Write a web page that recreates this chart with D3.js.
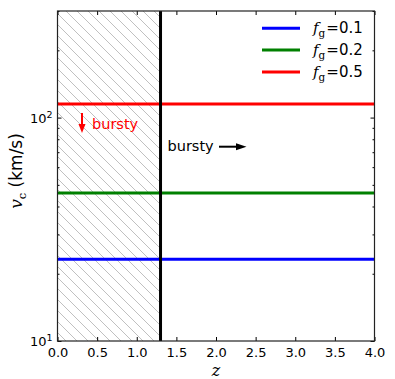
<!DOCTYPE html>
<html>
<head>
<script src="https://d3js.org/d3.v7.min.js"></script>
<style>
  body { margin: 0; background: #fff; }
  text { font-family: "DejaVu Sans", sans-serif; }
  .math { font-family: "DejaVu Serif", serif; }
</style>
</head>
<body>
<script>
// data
var fgLabels = ["0.1", "0.2", "0.5"];
var vcValues = [23.2, 46, 115];
var lineColors = ["#0000ff", "#008000", "#ff0000"];
var zCrit = 1.3;
var xTicks = [0, 0.5, 1, 1.5, 2, 2.5, 3, 3.5, 4];
var yMajor = [10, 100];

var width = 395, height = 379;
var margin = {top: 11, right: 20.5, bottom: 38, left: 57.5};

var svg = d3.select("body").append("svg")
    .attr("width", width)
    .attr("height", height);

var x = d3.scaleLinear().domain([0, 4]).range([margin.left, width - margin.right]);
var y = d3.scaleLog().domain([10, 300]).range([height - margin.bottom, margin.top]);

// hatch pattern
var defs = svg.append("defs");
var pat = defs.append("pattern")
    .attr("id", "hatch")
    .attr("patternUnits", "userSpaceOnUse")
    .attr("width", 11).attr("height", 11);
pat.append("path")
    .attr("d", "M-1,-1 L12,12 M-1,10 L1,12 M10,-1 L12,1")
    .attr("stroke", "#b0b0b0")
    .attr("stroke-width", 0.8)
    .attr("fill", "none");

svg.append("rect")
    .attr("x", x(0)).attr("y", y(300))
    .attr("width", x(zCrit) - x(0))
    .attr("height", y(10) - y(300))
    .attr("fill", "url(#hatch)");

// horizontal lines
vcValues.forEach(function(v, i) {
  svg.append("line")
    .attr("x1", x(0)).attr("x2", x(4))
    .attr("y1", y(v)).attr("y2", y(v))
    .attr("stroke", lineColors[i])
    .attr("stroke-width", 3);
});

// vertical line
svg.append("line")
  .attr("x1", x(zCrit)).attr("x2", x(zCrit))
  .attr("y1", y(10)).attr("y2", y(300))
  .attr("stroke", "black")
  .attr("stroke-width", 3);

// ticks (inside)
var xAxisB = d3.axisBottom(x).tickValues(xTicks).tickSizeInner(-4).tickSizeOuter(0)
    .tickPadding(7).tickFormat(d3.format(".1f"));
var gx = svg.append("g").attr("transform", "translate(0," + y(10) + ")").call(xAxisB);
gx.select(".domain").remove();
gx.selectAll("text").attr("font-size", 13).attr("font-family", "DejaVu Sans").attr("fill", "black");

var xAxisT = d3.axisTop(x).tickValues(xTicks).tickSizeInner(-4).tickSizeOuter(0).tickFormat("");
var gxt = svg.append("g").attr("transform", "translate(0," + y(300) + ")").call(xAxisT);
gxt.select(".domain").remove();

var minor = [];
[10, 100].forEach(function(d) {
  for (var k = 2; k <= 9; k++) { if (k * d <= 300) minor.push(k * d); }
});

function yTicks(side) {
  var xp = side === "left" ? x(0) : x(4);
  var ax = side === "left" ? d3.axisLeft(y) : d3.axisRight(y);
  var g1 = svg.append("g").attr("transform", "translate(" + xp + ",0)")
    .call(ax.tickValues(yMajor).tickSizeInner(-4).tickSizeOuter(0).tickFormat(""));
  g1.select(".domain").remove();
  var g2 = svg.append("g").attr("transform", "translate(" + xp + ",0)")
    .call((side === "left" ? d3.axisLeft(y) : d3.axisRight(y)).tickValues(minor).tickSizeInner(-2).tickSizeOuter(0).tickFormat(""));
  g2.select(".domain").remove();
}
yTicks("left");
yTicks("right");

// y tick labels 10^1, 10^2
yMajor.forEach(function(v) {
  var t = svg.append("text")
    .attr("x", x(0) - 5).attr("y", y(v) + 5)
    .attr("text-anchor", "end")
    .attr("font-size", 13);
  t.append("tspan").text("10");
  t.append("tspan").attr("dy", -5).attr("font-size", 9.5).text(Math.round(Math.log10(v)));
});

// frame
svg.append("rect")
  .attr("x", x(0)).attr("y", y(300))
  .attr("width", x(4) - x(0)).attr("height", y(10) - y(300))
  .attr("fill", "none").attr("stroke", "#222").attr("stroke-width", 1.2);

// legend
fgLabels.forEach(function(lab, i) {
  var ly = 28.3 + i * 21.8;
  svg.append("line")
    .attr("x1", 262).attr("x2", 300)
    .attr("y1", ly).attr("y2", ly)
    .attr("stroke", lineColors[i]).attr("stroke-width", 3);
  var t = svg.append("text").attr("x", 313).attr("y", ly + 5).attr("font-size", 15);
  t.append("tspan").attr("class", "math").attr("font-style", "italic").text("f");
  t.append("tspan").attr("class", "math").attr("font-size", 10.5).attr("dy", 4).text("g");
  t.append("tspan").attr("class", "math").attr("dy", -4).attr("dx", 1).text("=");
  t.append("tspan").text(lab);
});

// annotations
svg.append("text")
  .attr("x", 92).attr("y", 128.5)
  .attr("font-size", 14.5).attr("fill", "red").text("bursty");
svg.append("line")
  .attr("x1", 82).attr("x2", 82).attr("y1", 113).attr("y2", 126)
  .attr("stroke", "red").attr("stroke-width", 2);
svg.append("path")
  .attr("d", "M78.5,124 L85.5,124 L82,133 Z").attr("fill", "red");

svg.append("text")
  .attr("x", 167.5).attr("y", 150.5)
  .attr("font-size", 14.5).attr("fill", "black").text("bursty");
svg.append("line")
  .attr("x1", 219).attr("x2", 238).attr("y1", 146.7).attr("y2", 146.7)
  .attr("stroke", "black").attr("stroke-width", 2);
svg.append("path")
  .attr("d", "M236,143.2 L246.5,146.7 L236,150.2 Z").attr("fill", "black");

// axis labels
svg.append("text")
  .attr("class", "math")
  .attr("x", x(2)).attr("y", 376)
  .attr("text-anchor", "middle")
  .attr("font-size", 16).attr("font-style", "italic").text("z");

var yl = svg.append("text")
  .attr("transform", "translate(22,171) rotate(-90)")
  .attr("text-anchor", "middle")
  .attr("font-size", 17);
yl.append("tspan").attr("class", "math").attr("font-style", "italic").text("v");
yl.append("tspan").attr("class", "math").attr("font-size", 11.5).attr("dy", 4).text("c");
yl.append("tspan").attr("dy", -4).text(" (km/s)");
</script>
</body>
</html>
